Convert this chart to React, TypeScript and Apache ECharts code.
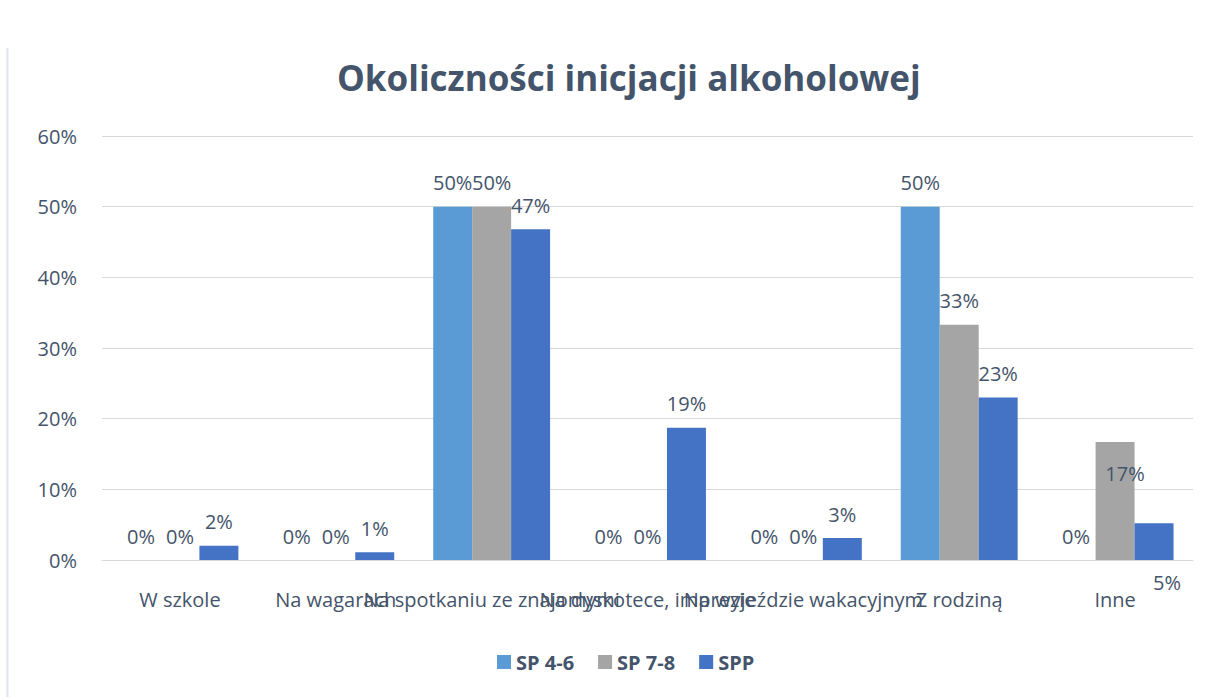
import React, { useEffect, useRef } from "react";
import * as echarts from "echarts";

const categories = [
  "W szkole",
  "Na wagarach",
  "Na spotkaniu ze znajomymi",
  "Na dyskotece, imprezie",
  "Na wyjeździe wakacyjnym",
  "Z rodziną",
  "Inne",
];
const sp46 = [0, 0, 50, 0, 0, 50, 0];
const sp78 = [0, 0, 50, 0, 0, 33.3, 16.7];
const spp = [2, 1.1, 46.8, 18.7, 3.1, 23, 5.2];
const seriesNames = ["SP 4-6", "SP 7-8", "SPP"];
const yTicks = [0, 10, 20, 30, 40, 50, 60];

const FONT = "'Open Sans', sans-serif";
const TEXT = "#44546A";
const colors = ["#5B9BD5", "#A5A5A5", "#4472C4"];

export default function App() {
  const ref = useRef<HTMLDivElement>(null);
  useEffect(() => {
    if (!ref.current) return;
    const chart = echarts.init(ref.current, undefined, { renderer: "svg" });
    const labelBase = {
      show: true,
      position: "top" as const,
      distance: 14,
      fontSize: 20,
      fontFamily: FONT,
      color: TEXT,
      formatter: (p: any) => `${Math.round(p.value)}%`,
    };
    const mk = (vals: number[], si: number) =>
      vals.map((v, i) => {
        if (si === 1 && i === 6) {
          return { value: v, label: { position: "insideTop", distance: 22, offset: [10, 0] } };
        }
        if (si === 2 && i === 6) {
          return { value: v, label: { position: "bottom", distance: 12, offset: [13, 0] } };
        }
        return v;
      });
    const all = [sp46, sp78, spp];
    chart.setOption({
      animation: false,
      title: {
        text: "Okoliczności inicjacji alkoholowej",
        left: 332,
        top: 55,
        textStyle: { fontFamily: FONT, fontSize: 35, fontWeight: "bold", color: TEXT },
      },
      legend: {
        data: seriesNames,
        bottom: 20,
        left: 492,
        itemWidth: 14,
        itemHeight: 14,
        itemGap: 24,
        icon: "rect",
        textStyle: { fontFamily: FONT, fontSize: 20, fontWeight: "bold", color: TEXT },
      },
      graphic: [
        {
          type: "line",
          shape: { x1: 7.5, y1: 48, x2: 7.5, y2: 697 },
          style: { stroke: "#DEE4EC", lineWidth: 2 },
        },
      ],
      grid: { left: 102, right: 15, top: 136, bottom: 137, containLabel: false },
      xAxis: {
        type: "category",
        data: categories,
        axisTick: { show: false },
        axisLine: { show: true, lineStyle: { color: "#D9D9D9", width: 1 } },
        axisLabel: {
          interval: 0,
          margin: 29,
          fontSize: 20,
          fontFamily: FONT,
          color: TEXT,
          hideOverlap: false,
        },
      },
      yAxis: {
        type: "value",
        min: yTicks[0],
        max: yTicks[yTicks.length - 1],
        interval: 10,
        axisLabel: {
          formatter: "{value}%",
          fontSize: 20,
          fontFamily: FONT,
          color: TEXT,
          margin: 25,
        },
        splitLine: { lineStyle: { color: "#D9D9D9", width: 1 } },
        axisLine: { show: false },
        axisTick: { show: false },
      },
      series: seriesNames.map((name, si) => ({
        name,
        type: "bar",
        data: mk(all[si], si),
        barGap: "0%",
        barCategoryGap: "25%",
        itemStyle: { color: colors[si] },
        label: labelBase,
      })),
    });
    return () => chart.dispose();
  }, []);
  return (
    <div
      ref={ref}
      style={{ position: "fixed", left: 0, top: 0, width: 1208, height: 697, background: "#fff" }}
    />
  );
}
